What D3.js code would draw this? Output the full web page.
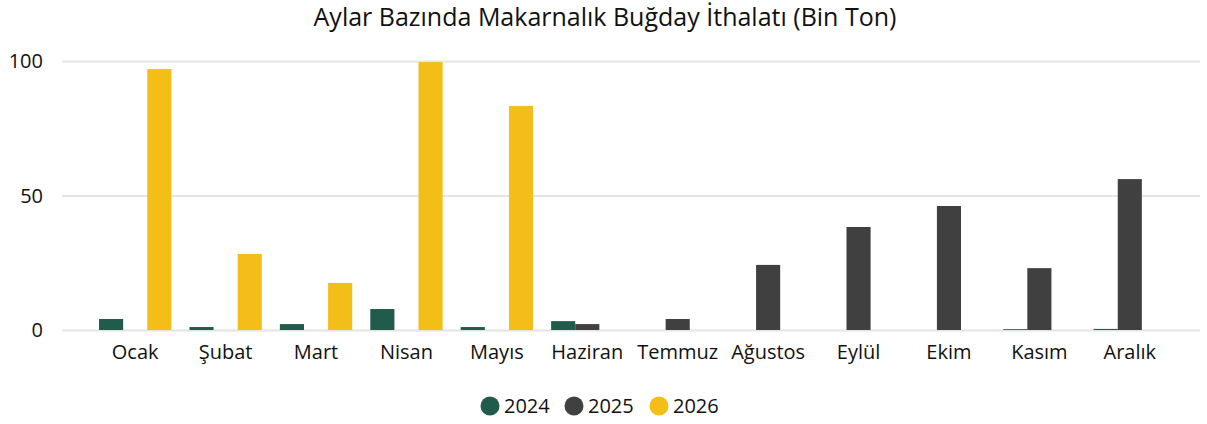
<!DOCTYPE html>
<meta charset="utf-8">
<body style="margin:0;background:#fff">
<script src="https://cdn.jsdelivr.net/npm/d3@7"></script>
<script>
var months = ["Ocak","Şubat","Mart","Nisan","Mayıs","Haziran","Temmuz","Ağustos","Eylül","Ekim","Kasım","Aralık"];
var years = ["2024","2025","2026"];
var v2024 = [4.1, 1.1, 2.2, 7.8, 1.1, 3.3, 0, 0, 0, 0, 0.3, 0.4];
var v2025 = [0, 0, 0, 0, 0, 2.2, 4.1, 24.2, 38.3, 46.1, 23, 56.1];
var v2026 = [97, 28.3, 17.5, 99.6, 83.3, 0, 0, 0, 0, 0, 0, 0];
var yTicks = [0, 50, 100];
var colors = ["#215b4b", "#404040", "#f4be18"];

var series = [v2024, v2025, v2026];
var W = 1207, H = 424;
var font = "'Open Sans', sans-serif";
var svg = d3.select("body").append("svg").attr("width", W).attr("height", H)
  .style("font-family", font);

var x = d3.scaleBand().domain(months).range([90, 1175]).paddingInner(0.2).paddingOuter(0.1);
var xs = d3.scaleBand().domain(years).range([0, x.bandwidth()]);
var y = d3.scaleLinear().domain([0, 100]).range([330, 61]);

svg.append("text").attr("x", 605).attr("y", 26).attr("text-anchor", "middle")
  .style("font-size", "25px").attr("fill", "#111")
  .text("Aylar Bazında Makarnalık Buğday İthalatı (Bin Ton)");

// grid
svg.append("g").selectAll("line").data(yTicks).join("line")
  .attr("x1", 62).attr("x2", 1200)
  .attr("y1", d => y(d) + 0.5).attr("y2", d => y(d) + 0.5)
  .attr("stroke", "#e4e4e4").attr("stroke-width", 2);

svg.append("g").selectAll("text").data(yTicks).join("text")
  .attr("x", 43).attr("y", d => y(d)).attr("dy", "0.35em")
  .attr("text-anchor", "end").style("font-size", "20px").attr("fill", "#111")
  .text(d => d);

// bars
var g = svg.append("g").selectAll("g").data(months).join("g")
  .attr("transform", d => "translate(" + x(d) + ",0)");
g.selectAll("rect").data((m, i) => series.map((s, k) => ({ yr: years[k], v: s[i], k: k })))
  .join("rect")
  .attr("x", d => xs(d.yr)).attr("width", xs.bandwidth())
  .attr("y", d => y(d.v)).attr("height", d => y(0) - y(d.v))
  .attr("fill", d => colors[d.k]);

// month labels
svg.append("g").selectAll("text").data(months).join("text")
  .attr("x", d => x(d) + x.bandwidth() / 2).attr("y", 359)
  .attr("text-anchor", "middle").style("font-size", "20px").attr("fill", "#111")
  .text(d => d);

// legend
var legX = [490, 574, 659];
var lg = svg.append("g").selectAll("g").data(years).join("g")
  .attr("transform", (d, i) => "translate(" + legX[i] + ",406)");
lg.append("circle").attr("r", 9.5).attr("fill", (d, i) => colors[i]);
lg.append("text").attr("x", 14).attr("dy", "0.35em").style("font-size", "20px")
  .attr("fill", "#111").text(d => d);
</script>
</body>
